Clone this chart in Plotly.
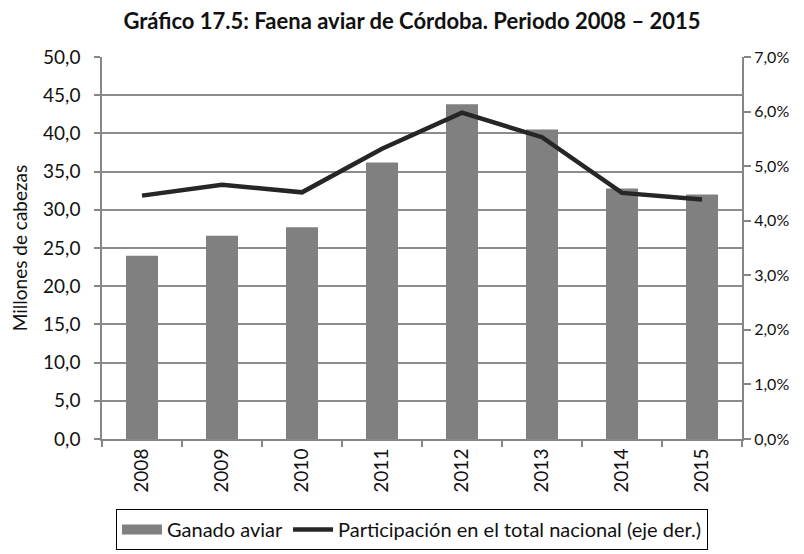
import plotly.graph_objects as go

years = ["2008", "2009", "2010", "2011", "2012", "2013", "2014", "2015"]
ganado = [24.0, 26.6, 27.7, 36.2, 43.8, 40.5, 32.8, 32.0]  # millones de cabezas
participacion = [0.0446, 0.0466, 0.0452, 0.0532, 0.0598, 0.0553, 0.0451, 0.0439]

FONT = "Lato, 'Open Sans', sans-serif"
AXIS_GREY = "#868686"
BAR_GREY = "#808080"
NBSP = "\u00a0"

# page body adds an 8px margin, so the plot box is laid out 8px up/left
PLOT_L, PLOT_R, PLOT_T, PLOT_B = 94, 734, 49, 433

fig = go.Figure()

fig.add_trace(go.Bar(
    x=years,
    y=ganado,
    name="Ganado aviar",
    marker=dict(color=BAR_GREY, line=dict(width=0)),
    showlegend=False,
))

# legend entry for the bars, drawn as a wide grey block like Excel does
fig.add_trace(go.Scatter(
    x=[None],
    y=[None],
    name="Ganado aviar",
    mode="lines",
    line=dict(color=BAR_GREY, width=13),
))

fig.add_trace(go.Scatter(
    x=years,
    y=participacion,
    name="Participación en el total nacional (eje der.)",
    mode="lines",
    line=dict(color="#262626", width=4.5),
    yaxis="y2",
))

fig.update_layout(
    width=804,
    height=554,
    margin=dict(l=PLOT_L, r=804 - PLOT_R, t=PLOT_T, b=554 - PLOT_B),
    paper_bgcolor="white",
    plot_bgcolor="white",
    separators=",.",
    font=dict(family=FONT, size=20, color="#111111"),
    bargap=0.6,
    title=dict(
        text="<b>Gráfico 17.5: Faena aviar de Córdoba. Periodo 2008 – 2015</b>",
        x=404 / 804, xanchor="center",
        y=1 - 13 / 554, yanchor="middle",
        font=dict(size=22, family=FONT, color="#111111"),
    ),
    xaxis=dict(
        type="category",
        tickangle=-90,
        ticks="outside",
        tickson="boundaries",
        ticklen=6,
        tickcolor=AXIS_GREY,
        tickwidth=1.5,
        showline=True,
        linecolor=AXIS_GREY,
        linewidth=2,
        showgrid=False,
        tickfont=dict(size=19),
    ),
    yaxis=dict(
        range=[0, 50],
        dtick=5,
        tickformat=".1f",
        ticksuffix=NBSP * 2,
        showgrid=True,
        gridcolor="#8c8c8c",
        gridwidth=1.5,
        showline=True,
        linecolor=AXIS_GREY,
        linewidth=2,
        ticks="outside",
        ticklen=6,
        tickcolor=AXIS_GREY,
        tickwidth=1.5,
        zeroline=False,
        title=dict(text="Millones de cabezas", font=dict(size=19), standoff=10),
        tickfont=dict(size=19),
    ),
    yaxis2=dict(
        overlaying="y",
        side="right",
        range=[0, 0.07],
        dtick=0.01,
        tickformat=".1%",
        showgrid=False,
        showline=True,
        linecolor=AXIS_GREY,
        linewidth=2,
        ticks="outside",
        ticklen=7,
        tickcolor=AXIS_GREY,
        tickwidth=1.5,
        zeroline=False,
        tickfont=dict(size=16),
    ),
    legend=dict(
        orientation="h",
        x=(404 - PLOT_L) / (PLOT_R - PLOT_L), xanchor="center",
        y=-(524 - PLOT_B) / (PLOT_B - PLOT_T), yanchor="middle",
        bordercolor="#000000",
        borderwidth=1,
        font=dict(size=20),
        traceorder="normal",
        itemwidth=40,
    ),
    showlegend=True,
)

fig.write_html("out.html")
